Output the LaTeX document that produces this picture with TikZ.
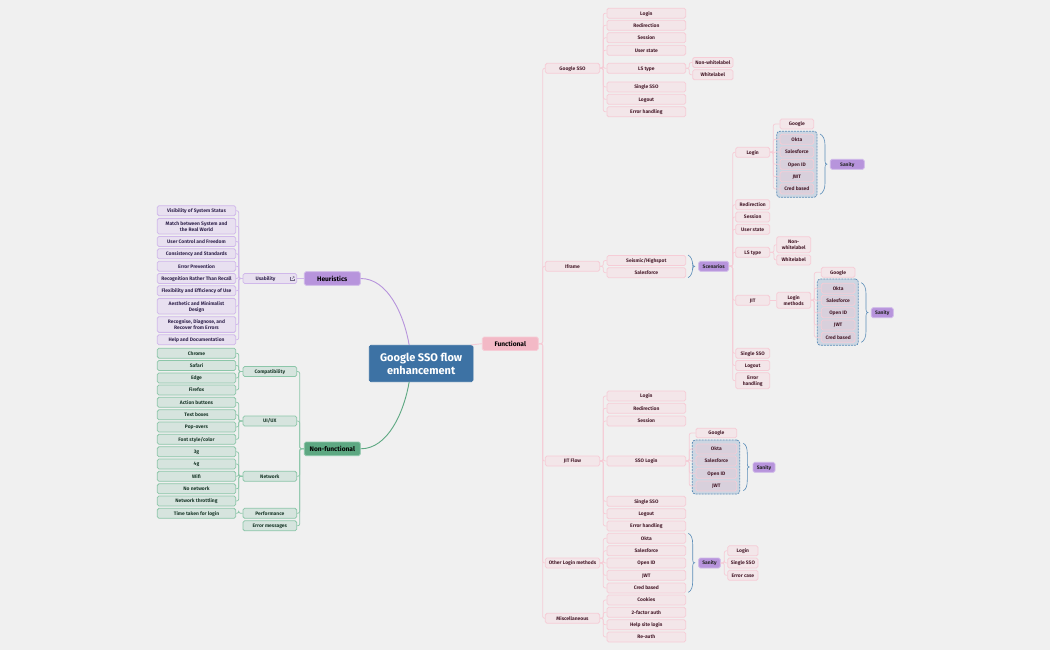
\documentclass[tikz,border=0pt]{standalone}
\usepackage{fontspec}
\setmainfont{Fira Sans}
\definecolor{bg}{HTML}{F0F0F0}
\definecolor{pinkF}{HTML}{F3E6E9}\definecolor{pinkB}{HTML}{F6CCD6}\definecolor{pinkT}{HTML}{4A1F2E}
\definecolor{purpF}{HTML}{E8E0F0}\definecolor{purpB}{HTML}{D0B8EA}\definecolor{purpT}{HTML}{33264F}
\definecolor{grnF}{HTML}{D6E4DE}\definecolor{grnB}{HTML}{8CC6A9}\definecolor{grnT}{HTML}{1C3A2C}
\definecolor{rootF}{HTML}{3D72A4}\definecolor{grpF}{HTML}{CCD6E2}\definecolor{grpB}{HTML}{5B8DB8}
\definecolor{inF}{HTML}{D8D0DC}\definecolor{topP}{HTML}{B794DC}\definecolor{topG}{HTML}{5DA882}\definecolor{topR}{HTML}{F3B9C6}
\tikzset{
 box/.style={rounded corners=1.6pt,line width=.8pt,inner sep=0pt,align=center,font=\fontsize{4.95}{6}\selectfont\bfseries},
 pk/.style={box,draw=pinkB,fill=pinkF,text=pinkT},
 pkin/.style={box,draw=pinkB,fill=inF,text=pinkT},
 pu/.style={box,draw=purpB,fill=purpF,text=purpT},
 gr/.style={box,draw=grnB,fill=grnF,text=grnT},
 topbox/.style={box,font=\fontsize{6.6}{8}\selectfont\bfseries,text=black},
 toppu/.style={topbox,draw=purpB,fill=topP},
 topgr/.style={topbox,draw=grnB,fill=topG},
 toppk/.style={topbox,draw=pinkB,fill=topR},
 san/.style={box,draw=purpB,fill=topP,text=black!85},
 grp/.style={draw=grpB,fill=grpF,dashed,dash pattern=on 2pt off 1pt,line width=.7pt,rounded corners=3pt,inner sep=0pt},
 pl/.style={draw=pinkB,line width=.75pt,rounded corners=2pt},
 ul/.style={draw=purpB,line width=.75pt,rounded corners=2pt},
 gl/.style={draw=grnB,line width=.75pt,rounded corners=2pt},
 brk/.style={draw=grpB,line width=.6pt},
}
\newcommand\N[7][pk]{\node[#1,minimum width={(#4-#3)*1pt},minimum height={#6*1pt}] (#2) at ({(#3+#4)/2},#5) {\rule{0pt}{1em}#7\vphantom{g}};}
\newcommand\Lk[4][pl]{\draw[#1] (#2) -- (#4,0 |- #2) |- (#3);}
\newcommand\Brk[4]{% x0 x1 y0 y1
 \draw[brk] (#1,#3) .. controls ({#1+3},{#3+1.5}) and (#2,{#3+5}) .. (#2,{#3+11})
  -- (#2,{(#3+#4)/2-3}) .. controls (#2,{(#3+#4)/2-1}) and ({#2+.5},{(#3+#4)/2}) .. ({#2+2},{(#3+#4)/2})
  .. controls ({#2+.5},{(#3+#4)/2}) and (#2,{(#3+#4)/2+1}) .. (#2,{(#3+#4)/2+3})
  -- (#2,{#4-11}) .. controls (#2,{#4-5}) and ({#1+3},{#4-1.5}) .. (#1,#4);}
\begin{document}
\begin{tikzpicture}[x=1pt,y=-1pt]
\path[use as bounding box,fill=bg] (0,0) rectangle (1050,650);
% --- central
\N[box,draw=rootF,fill=rootF,text=white,font=\fontsize{11}{13.4}\selectfont\bfseries]{root}{369.3}{473}{363.5}{36.4}{Google SSO flow\\enhancement}
\N[toppu]{heur}{304.3}{360.3}{278.5}{13.6}{Heuristics}
\N[topgr]{nonf}{304.3}{360.3}{448.8}{13.6}{Non-functional}
\N[toppk]{func}{482.3}{538.3}{343.7}{13.4}{Functional}
\draw[topP,line width=.9pt] (heur.east) .. controls (388,278.5) and (404,315) .. ([xshift=-12pt]root.north);
\draw[topG,line width=.9pt] (nonf.east) .. controls (388,448.8) and (404,412) .. ([xshift=-12pt]root.south);
\draw[pinkB,line width=.9pt] ([xshift=50pt]root.north) -- (func.west);
% --- usability
\N[pu]{usab}{243}{296.7}{278.5}{10}{Usability\hspace{6pt}\phantom{x}}
\foreach \n/\y/\h/\t in {
 u1/210.7/10/{Visibility of System Status},
 u2/226.2/15.7/{Match between System and\\the Real World},
 u3/241.5/10/{User Control and Freedom},
 u4/253.8/10/{Consistency and Standards},
 u5/266.2/10/{Error Prevention},
 u6/278.5/10/{Recognition Rather Than Recall},
 u7/290.8/10/{Flexibility and Efficiency of Use},
 u8/306.2/15.7/{Aesthetic and Minimalist\\Design},
 u9/324.5/15.7/{Recognise, Diagnose, and\\Recover from Errors},
 u10/339.8/10/{Help and Documentation}}{
 \N[pu]{\n}{157.3}{235.7}{\y}{\h}{\t}
 \Lk[ul]{usab.west}{\n.east}{238.7}
}
\draw[ul] (heur.west) -- (usab.east);
\draw[purpT!70!white,line width=.3pt] (291.4,276.8) -- (290.2,276.8) -- (290.2,280.6) -- (294,280.6) -- (294,279.4);
\draw[purpT!70!white,line width=.3pt] (292,279) -- (294.2,276.6) (292.9,276.6) -- (294.2,276.6) -- (294.2,277.9);
% --- non-functional
\foreach \n/\y/\t in {compat/371.5/Compatibility,uiux/421/UI\slash UX,netw/476.3/Network,perf/513.3/Performance,errm/525.8/Error messages}{
 \N[gr]{\n}{243}{296.7}{\y}{10}{\t}
 \Lk[gl]{nonf.west}{\n.east}{299.7}
}
\foreach \n/\p/\y/\t in {
 g1/compat/353.2/Chrome,g2/compat/365.5/Safari,g3/compat/378/Edge,g4/compat/390/Firefox,
 g5/uiux/402.3/Action buttons,g6/uiux/414.8/Text boxes,g7/uiux/427/Pop-overs,g8/uiux/439.3/Font style\slash color,
 g9/netw/451.8/3g,g10/netw/464/4g,g11/netw/476.3/Wifi,g12/netw/488.8/No network,g13/netw/501/Network throttling,
 g14/perf/513.3/Time taken for login}{
 \N[gr]{\n}{157.3}{235.7}{\y}{10}{\t}
 \Lk[gl]{\p.west}{\n.east}{238.7}
}
% --- Functional first level
\foreach \n/\y/\t in {gsso/68.3/Google SSO,ifr/266.3/Iframe,jit/461/JIT Flow,oth/563/Other Login methods,misc/618.3/Miscellaneous}{
 \N{\n}{545.3}{599.7}{\y}{10}{\t}
 \Lk{func.east}{\n.west}{542.7}
}
% Google SSO
\foreach \n/\y/\t in {a1/13.2/Login,a2/25.3/Redirection,a3/37.8/Session,a4/50.2/User state,a5/68.3/LS type,a6/87/Single SSO,a7/99.3/Logout,a8/111.8/Error handling}{
 \N{\n}{607}{685.7}{\y}{10}{\t}
 \Lk{gsso.east}{\n.west}{603.3}
}
\foreach \n/\y/\t in {a9/62.5/Non-whitelabel,a10/74.8/Whitelabel}{
 \N{\n}{692.7}{733}{\y}{10}{\t}
 \Lk{a5.east}{\n.west}{689.3}
}
% Iframe
\foreach \n/\y/\t in {b1/260.5/Seismic\slash Highspot,b2/272.7/Salesforce}{
 \N{\n}{607}{685.7}{\y}{10}{\t}
 \Lk{ifr.east}{\n.west}{603.3}
}
\Brk{688}{692.7}{255}{277.7}
\N[san]{scen}{698.7}{728.7}{266.3}{10}{Scenarios}
\foreach \n/\y/\h/\t in {c1/152.3/10/Login,c2/204.7/10/Redirection,c3/217/10/Session,c4/229.3/10/User state,c5/252.3/10/LS type,c6/300.3/10/JIT,c7/353.3/10/Single SSO,c8/365.5/10/Logout,c9/380.7/16/{Error\\handling}}{
 \N{\n}{735.7}{769.7}{\y}{\h}{\t}
 \Lk{scen.east}{\n.west}{732.7}
}
% Scenarios > Login
\node[grp,minimum width=40.3pt,minimum height=66pt] (gA) at (796.85,164.3) {};
\N{d0}{780}{813.7}{124}{10}{Google}
\Lk{c1.east}{d0.west}{773.3}
\foreach \n/\y/\t in {d1/139.3/Okta,d2/152/Salesforce,d3/164.3/Open ID,d4/176.7/JWT,d5/189/Cred based}{
 \N[pkin]{\n}{780}{813.7}{\y}{10}{\t}
 \Lk{c1.east}{\n.west}{773.3}
}
\Brk{820}{825}{134}{194.3}
\N[san]{sanA}{830.3}{864.3}{164.3}{10}{Sanity}
% LS type
\N{e1}{776.7}{810.7}{244.7}{16}{Non-\\whitelabel}
\N{e2}{776.7}{810.7}{260}{10}{Whitelabel}
\Lk{c5.east}{e1.west}{774}
\Lk{c5.east}{e2.west}{774}
% JIT
\N{f0}{776.7}{810.7}{300.3}{16}{Login\\methods}
\draw[pl] (c6.east) -- (f0.west);
\node[grp,minimum width=41pt,minimum height=66.3pt] (gB) at (837.8,312.15) {};
\N{f1}{821.3}{855}{272.3}{10}{Google}
\Lk{f0.east}{f1.west}{814.3}
\foreach \n/\y/\t in {f2/288.3/Okta,f3/300.3/Salesforce,f4/312.7/Open ID,f5/325/JWT,f6/337.3/Cred based}{
 \N[pkin]{\n}{821.3}{855}{\y}{10}{\t}
 \Lk{f0.east}{\n.west}{814.3}
}
\Brk{861.3}{866}{282.7}{342.3}
\N[san]{sanB}{871.3}{893.3}{312.7}{10}{Sanity}
% JIT flow
\foreach \n/\y/\t in {h1/396/Login,h2/408.3/Redirection,h3/421/Session,h4/461/SSO Login,h5/501.3/Single SSO,h6/513.8/Logout,h7/526/Error handling}{
 \N{\n}{607}{685.7}{\y}{10}{\t}
 \Lk{jit.east}{\n.west}{603.3}
}
\node[grp,minimum width=47.4pt,minimum height=54pt] (gC) at (716,467) {};
\N{i0}{696}{736.7}{433}{9.6}{Google}
\Lk{h4.east}{i0.west}{689.3}
\foreach \n/\y/\t in {i1/449/Okta,i2/461/Salesforce,i3/473.3/Open ID,i4/486/JWT}{
 \N[pkin]{\n}{696}{736.7}{\y}{10}{\t}
 \Lk{h4.east}{\n.west}{689.3}
}
\Brk{743.3}{747.3}{443.3}{490.7}
\N[san]{sanC}{753}{775}{467.3}{10}{Sanity}
% Other login
\foreach \n/\y/\t in {j1/538.3/Okta,j2/550.8/Salesforce,j3/563/Open ID,j4/575.3/JWT,j5/588/Cred based}{
 \N{\n}{607}{685.7}{\y}{10}{\t}
 \Lk{oth.east}{\n.west}{603.3}
}
\Brk{688.3}{692.7}{533.3}{592.3}
\N[san]{sanD}{698.7}{720.3}{563}{10}{Sanity}
\foreach \n/\y/\t in {k1/550.8/Login,k2/563/Single SSO,k3/575.3/Error case}{
 \N{\n}{727.7}{758}{\y}{10}{\t}
 \Lk{sanD.east}{\n.west}{724.3}
}
% Misc
\foreach \n/\y/\t in {m1/600/Cookies,m2/612.3/2-factor auth,m3/624.8/Help site login,m4/637/Re-auth}{
 \N{\n}{607}{685.7}{\y}{10}{\t}
 \Lk{misc.east}{\n.west}{603.3}
}
\end{tikzpicture}
\end{document}
